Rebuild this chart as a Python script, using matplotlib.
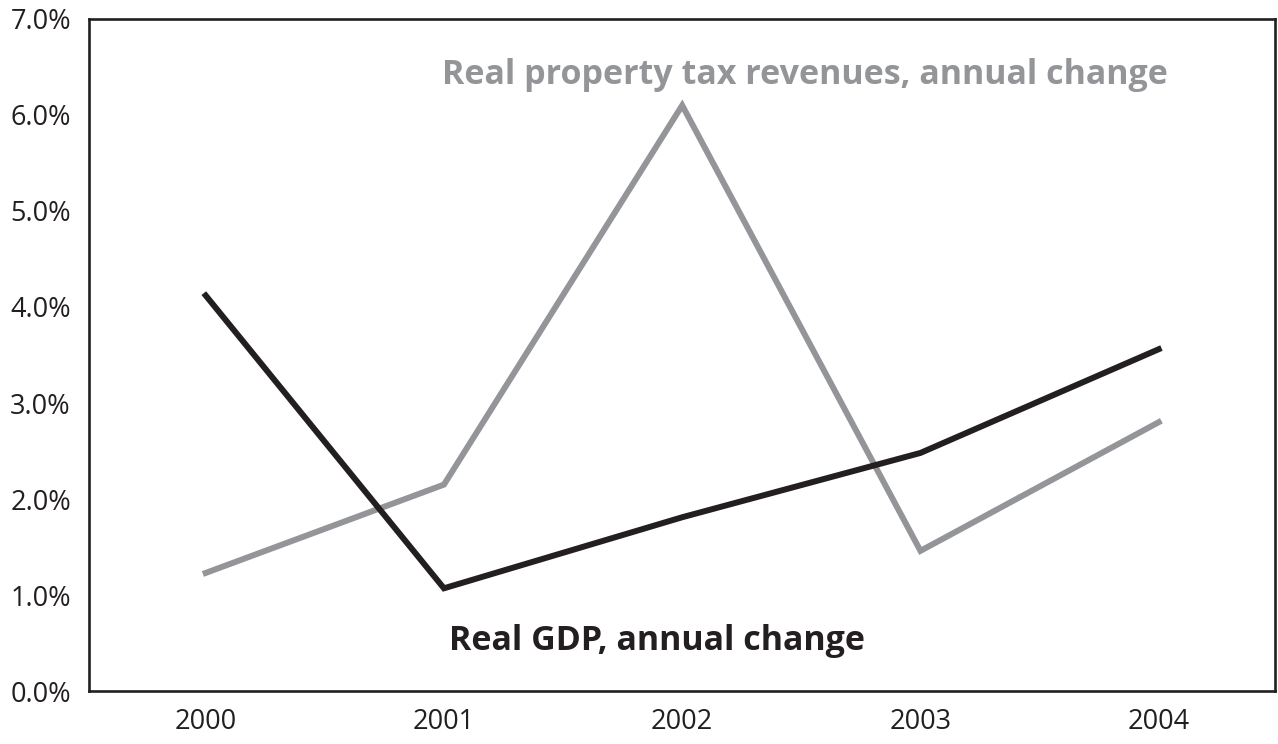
import matplotlib.pyplot as plt
from matplotlib.ticker import FuncFormatter

plt.rcParams['font.family'] = ['Open Sans', 'DejaVu Sans']

years = ['2000', '2001', '2002', '2003', '2004']
gdp = [4.12, 1.07, 1.81, 2.48, 3.56]
property_tax = [1.23, 2.15, 6.10, 1.46, 2.80]

black = '#231f20'
grey = '#939598'

fig = plt.figure(figsize=(12.78, 7.44), dpi=100)
ax = fig.add_axes([0.0696, 0.0712, 0.9284, 0.9033])

x = range(len(years))
ax.plot(x, property_tax, color=grey, lw=4.3, solid_joinstyle='miter')
ax.plot(x, gdp, color=black, lw=4.3, solid_joinstyle='miter')

ax.set_xlim(-0.49, 4.49)
ax.set_ylim(0, 7)
ax.set_xticks(list(x))
ax.set_xticklabels(years)
ax.set_yticks([0, 1, 2, 3, 4, 5, 6, 7])
ax.yaxis.set_major_formatter(FuncFormatter(lambda v, p: f'{v:.1f}%'))
ax.tick_params(length=0, labelsize=19.5, colors=black)
ax.tick_params(axis='y', pad=13)
ax.tick_params(axis='x', pad=12)
for s in ax.spines.values():
    s.set_color(black)
    s.set_linewidth(1.9)

ax.text(0.99, 6.42, 'Real property tax revenues, annual change', color=grey,
        fontsize=24.5, fontweight='bold', va='center', ha='left')
ax.text(1.02, 0.52, 'Real GDP, annual change', color=black,
        fontsize=24.5, fontweight='bold', va='center', ha='left')

fig.savefig('out.png', dpi=100)
